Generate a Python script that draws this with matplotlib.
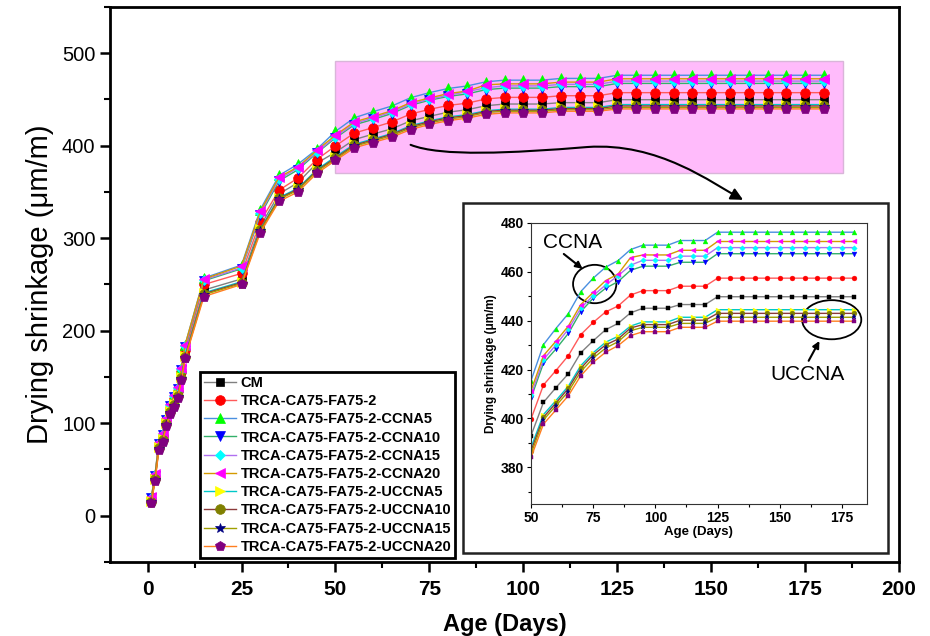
import matplotlib
matplotlib.use("Agg")
import matplotlib.pyplot as plt
from matplotlib.patches import Rectangle, Ellipse, FancyArrowPatch
from matplotlib.path import Path
from matplotlib.ticker import MultipleLocator

plt.rcParams['font.family'] = ['Liberation Sans', 'DejaVu Sans']

# Age (days)
days = [1, 2, 3, 4, 5, 6, 7, 8, 9, 10, 15, 25, 30, 35, 40, 45,
        50, 55, 60, 65, 70, 75, 80, 85, 90, 95, 100, 105, 110, 115, 120,
        125, 130, 135, 140, 145, 150, 155, 160, 165, 170, 175, 180]

# Drying shrinkage (um/m) per mix
cm = ([17, 41, 75, 84, 101, 115, 123, 132, 152, 176, 244, 256, 313, 348, 360, 381]
      + [393.0, 406.6, 412.6, 418.3, 426.9, 431.8, 436.3, 438.9, 443.2, 445.1,
         445.1, 445.1, 446.6, 446.6, 446.6] + [449.8] * 12)
trca = ([18, 42, 77, 86, 103, 117, 126, 135, 155, 179, 250, 262, 318, 352, 365, 385]
        + [399.8, 413.7, 419.6, 425.7, 434.3, 439.3, 443.6, 446.0, 450.5, 452.3,
           452.3, 452.3, 454.1, 454.1, 454.1] + [457.4] * 12)
ccna5 = ([20, 45, 80, 89, 106, 121, 130, 139, 160, 185, 257, 271, 331, 368, 380, 396]
         + [415.5, 430.2, 436.8, 442.9, 451.9, 457.4, 461.9, 464.6, 469.1, 470.9,
            470.9, 470.9, 472.8, 472.8, 472.8] + [476.2] * 12)
ccna10 = ([19, 43, 78, 87, 104, 119, 128, 137, 158, 182, 254, 267, 325, 362, 374, 392]
          + [408.4, 422.6, 428.4, 434.8, 443.7, 449.2, 453.3, 456.0, 460.6, 462.3,
             462.3, 462.3, 463.9, 463.9, 463.9] + [467.4] * 12)
ccna15 = ([19, 44, 79, 88, 105, 120, 129, 138, 159, 183, 255, 268, 327, 364, 376, 393]
          + [409.6, 424.1, 430.1, 436.5, 445.1, 450.3, 454.6, 458.4, 462.7, 464.7,
             464.7, 464.7, 466.4, 466.4, 466.4] + [469.9] * 12)
ccna20 = ([20, 45, 80, 89, 106, 121, 130, 139, 160, 185, 256, 270, 329, 366, 377, 395]
          + [411.4, 425.7, 431.6, 437.8, 446.6, 451.6, 456.4, 459.1, 465.8, 466.9,
             466.9, 466.9, 468.8, 468.8, 468.8] + [472.4] * 12)
uccna5 = ([16, 40, 74, 83, 100, 113, 121, 130, 150, 173, 241, 253, 310, 344, 354, 374]
          + [388.2, 401.6, 407.3, 413.2, 421.6, 426.9, 431.2, 433.6, 437.8, 439.5,
             439.5, 439.5, 441.4, 441.4, 441.4] + [444.5] * 12)
uccna10 = ([15, 40, 73, 82, 99, 112, 120, 129, 149, 172, 240, 252, 309, 343, 353, 373]
           + [386.8, 400.5, 406.3, 412.3, 420.5, 426.0, 430.1, 432.5, 437.0, 438.4,
              438.4, 438.4, 440.2, 440.2, 440.2] + [443.0] * 12)
uccna15 = ([15, 39, 72, 81, 98, 111, 119, 128, 148, 171, 239, 251, 308, 342, 352, 372]
           + [385.5, 399.4, 405.2, 411.0, 419.2, 424.7, 428.8, 431.4, 435.9, 437.3,
              437.3, 437.3, 438.9, 438.9, 438.9] + [441.4] * 12)
uccna20 = ([14, 38, 71, 80, 97, 110, 118, 127, 147, 170, 237, 250, 306, 340, 350, 370]
           + [384.1, 397.7, 403.5, 409.3, 417.5, 423.0, 427.1, 429.8, 433.9, 435.5,
              435.5, 435.5, 437.3, 437.3, 437.3] + [439.8] * 12)

labels = ['CM', 'TRCA-CA75-FA75-2', 'TRCA-CA75-FA75-2-CCNA5', 'TRCA-CA75-FA75-2-CCNA10',
          'TRCA-CA75-FA75-2-CCNA15', 'TRCA-CA75-FA75-2-CCNA20', 'TRCA-CA75-FA75-2-UCCNA5',
          'TRCA-CA75-FA75-2-UCCNA10', 'TRCA-CA75-FA75-2-UCCNA15', 'TRCA-CA75-FA75-2-UCCNA20']
series = [cm, trca, ccna5, ccna10, ccna15, ccna20, uccna5, uccna10, uccna15, uccna20]

line_colors = ['#808080', '#FF5A5A', '#4A8FE0', '#33B06A', '#B070F0',
               '#D49A00', '#00C8C8', '#8B3A3A', '#A0A000', '#FF7F20']
marker_colors = ['#000000', '#FF0000', '#00FF00', '#0000FF', '#00FFFF',
                 '#FF00FF', '#FFFF00', '#808000', '#000080', '#800080']
markers = ['s', 'o', '^', 'v', 'D', '<', '>', 'o', '*', 'p']
msizes = [6, 7, 7, 7, 5.5, 7, 7, 7, 7.5, 7.5]

fig = plt.figure(figsize=(9.3, 6.36), dpi=100)
ax = fig.add_axes([0.1183, 0.1164, 0.8484, 0.8726])

# Highlight of the zoomed region.
ax.add_patch(Rectangle((50, 370), 135, 122, facecolor='#FFBBFB',
                       edgecolor='#D9B5D9', linewidth=1, zorder=1))

for y, lab, lc, mc, mk, ms in zip(series, labels, line_colors, marker_colors, markers, msizes):
    ax.plot(days, y, color=lc, linewidth=1, marker=mk, markersize=ms,
            markerfacecolor=mc, markeredgecolor=mc, markeredgewidth=0.5,
            label=lab, zorder=3)

ax.set_xlim(-10, 200)
ax.set_ylim(-50, 550)
ax.xaxis.set_major_locator(MultipleLocator(25))
ax.xaxis.set_minor_locator(MultipleLocator(12.5))
ax.yaxis.set_major_locator(MultipleLocator(100))
ax.yaxis.set_minor_locator(MultipleLocator(50))
ax.tick_params(which='major', direction='out', length=7, width=1.8)
ax.tick_params(which='minor', direction='out', length=4, width=1.5)
ax.tick_params(axis='x', labelsize=15, pad=6)
ax.tick_params(axis='y', labelsize=14.5)
for s in ax.spines.values():
    s.set_linewidth(2)
for t in ax.get_xticklabels():
    t.set_fontweight('bold')
ax.set_xlabel('Age (Days)', fontsize=17, fontweight='bold', labelpad=10)
ax.set_ylabel('Drying shrinkage (μm/m)', fontsize=21, labelpad=6)

leg = ax.legend(loc='lower left', bbox_to_anchor=(0.114, 0.008), borderaxespad=0,
                prop={'weight': 'bold', 'size': 10.5}, labelspacing=0.29,
                handlelength=2.2, handletextpad=0.35, borderpad=0.25,
                fancybox=False, framealpha=1, edgecolor='black')
leg.get_frame().set_linewidth(2)

# Curved arrow to the inset.
verts = [(70, 401), (78, 388), (97, 392), (117, 398.6),
         (136, 404), (150, 360), (158.5, 341.5)]
codes = [Path.MOVETO, Path.CURVE4, Path.CURVE4, Path.CURVE4,
         Path.CURVE4, Path.CURVE4, Path.CURVE4]
ax.add_patch(FancyArrowPatch(path=Path(verts, codes), arrowstyle='-|>',
                             mutation_scale=18, linewidth=1.5, color='black',
                             transform=ax.transData, zorder=4))

# Inset frame.
fig.add_artist(Rectangle((0.498, 0.1305), 0.457, 0.550, transform=fig.transFigure,
                         facecolor='white', edgecolor='#222222', linewidth=1.8, zorder=5))

ins = fig.add_axes([0.571, 0.2075, 0.361, 0.442], zorder=6)
for y, lc, mc, mk, ms in zip(series, line_colors, marker_colors, markers, msizes):
    ins.plot(days, y, color=lc, linewidth=1, marker=mk, markersize=ms * 0.5,
             markerfacecolor=mc, markeredgecolor=mc, markeredgewidth=0.3)
ins.set_xlim(50, 185)
ins.set_ylim(365, 480)
ins.xaxis.set_major_locator(MultipleLocator(25))
ins.xaxis.set_minor_locator(MultipleLocator(12.5))
ins.yaxis.set_major_locator(MultipleLocator(20))
ins.yaxis.set_minor_locator(MultipleLocator(10))
ins.tick_params(which='major', direction='out', length=3, width=0.8, labelsize=10, pad=2)
ins.tick_params(which='minor', direction='out', length=2, width=0.8)
for s in ins.spines.values():
    s.set_linewidth(0.8)
    s.set_color('#333333')
for t in ins.get_xticklabels() + ins.get_yticklabels():
    t.set_fontweight('bold')
ins.set_xlabel('Age (Days)', fontsize=9.5, fontweight='bold', labelpad=1)
ins.set_ylabel('Drying shrinkage (μm/m)', fontsize=8.5, fontweight='bold', labelpad=3)

# Callouts inside the inset.
ins.add_patch(Ellipse((75.6, 455), 17.4, 15.7, fill=False, linewidth=1.3, edgecolor='black'))
ins.add_patch(Ellipse((170.9, 440.4), 23.8, 16, fill=False, linewidth=1.3,
                      edgecolor='black', clip_on=False))
ins.text(66.9, 472.1, 'CCNA', fontsize=15, ha='center', va='center')
ins.text(161.1, 418.1, 'UCCNA', fontsize=15, ha='center', va='center')
ins.annotate('', xy=(71.6, 460.5), xytext=(62.3, 468),
             arrowprops=dict(arrowstyle='-|>', color='black', lw=1.5, mutation_scale=10))
ins.annotate('', xy=(166.5, 432.7), xytext=(161.1, 422.6),
             arrowprops=dict(arrowstyle='-|>', color='black', lw=1.5, mutation_scale=10))

fig.savefig('out.png', dpi=100)
